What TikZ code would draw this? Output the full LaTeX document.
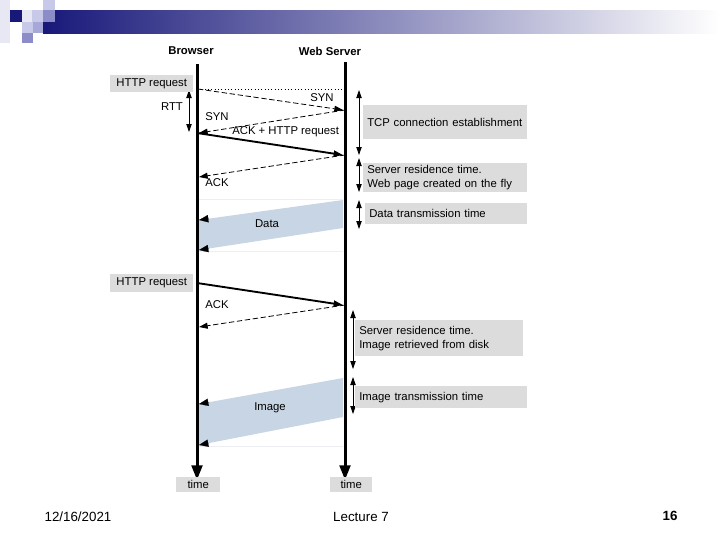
\documentclass[tikz,border=0pt]{standalone}
\usepackage{fontspec}
\setmainfont{Liberation Sans}
\usetikzlibrary{arrows.meta,calc}
\definecolor{boxgray}{RGB}{220,220,220}
\definecolor{bandblue}{RGB}{200,213,228}
\definecolor{navyhd}{RGB}{24,24,122}
\definecolor{lav1}{RGB}{200,200,232}
\definecolor{lav2}{RGB}{168,168,216}
\definecolor{lav3}{RGB}{140,140,200}
\definecolor{lav0}{RGB}{232,232,244}
\definecolor{faint}{RGB}{236,238,242}
\begin{document}
\begin{tikzpicture}[x=0.75pt,y=-0.75pt,
  font=\fontsize{8.5}{10.5}\selectfont,
  gbox/.style={fill=boxgray, inner sep=0pt, anchor=north west},
  gboxl/.style={gbox, align=left, inner xsep=3pt},
  lifeline/.style={line width=2.25pt, -{Triangle[length=11pt,width=8pt]}},
  msgsolid/.style={line width=1.4pt, -{Triangle[length=7pt,width=4.5pt]}},
  msgdash/.style={line width=0.6pt, dashed, dash pattern=on 4pt off 2pt, -{Triangle[length=6.5pt,width=4.5pt]}},
  span/.style={line width=0.6pt, {Triangle[length=6pt,width=4pt]}-{Triangle[length=6pt,width=4pt]}},
  tip/.style={line width=0.1pt, -{Triangle[length=7pt,width=5.5pt]}},
  lbl/.style={inner sep=0pt},
]
\useasboundingbox (0,0) rectangle (720,540);
% header decoration
\shade[left color=navyhd, right color=white] (43,10) rectangle (720,33);
\fill[lav0] (0,0) rectangle (10,43);
\fill[navyhd] (10,10) rectangle (22,22);
\fill[lav0] (22,10) rectangle (32,22);
\fill[lav1] (32,10) rectangle (43,22);
\fill[lav3] (43,10) rectangle (55,22);
\fill[lav1] (43,0) rectangle (55,10);
\fill[lav1] (22,22) rectangle (33,33);
\fill[lav2] (33,22) rectangle (43,33);
\fill[lav3] (22,33) rectangle (33,43);

% titles
\node[lbl, font=\fontsize{8.5}{10}\selectfont\bfseries] (browser) at (191,51) {Browser};
\node[lbl, font=\fontsize{8.5}{10}\selectfont\bfseries] (server) at (330,51) {Web Server};

% coordinates on lifelines
\coordinate (bTop) at (197,64);
\coordinate (bBot) at (197,480);
\coordinate (sTop) at (345,62);
\coordinate (sBot) at (345,480);

% faint guide lines
\draw[faint, line width=0.6pt] (199,199) -- (343,199);
\draw[faint, line width=0.6pt] (199,251) -- (343,251);
\draw[faint, line width=0.6pt] (199,446) -- (343,446);

% data bands
\coordinate (d1) at (343,200);
\coordinate (d2) at (343,228);
\coordinate (d3) at (199,250);
\coordinate (d4) at (199,220);
\fill[bandblue] (d1) -- (d2) -- (d3) -- (d4) -- cycle;
\draw[tip] ($(d4)!0.07!(d1)$) -- (d4);
\draw[tip] ($(d3)!0.07!(d2)$) -- (d3);
\node[lbl] (data) at (267,224) {Data};

\coordinate (i1) at (343,378);
\coordinate (i2) at (343,417);
\coordinate (i3) at (199,445);
\coordinate (i4) at (199,404);
\fill[bandblue] (i1) -- (i2) -- (i3) -- (i4) -- cycle;
\draw[tip] ($(i4)!0.07!(i1)$) -- (i4);
\draw[tip] ($(i3)!0.07!(i2)$) -- (i3);
\node[lbl] (image) at (270,408) {Image};

% lifelines
\draw[lifeline] (bTop) -- (bBot);
\draw[lifeline] (sTop) -- (sBot);

% first exchange
\coordinate (b89) at (198,89);
\coordinate (s89) at (344,89);
\coordinate (s110) at (343,110);
\coordinate (s110b) at (345,110);
\coordinate (b133) at (199,133);
\coordinate (b133b) at (197,133);
\coordinate (s155) at (343,155);
\coordinate (s155b) at (345,155);
\coordinate (b177) at (199,177);
\draw[line width=0.5pt, dotted] (b89) -- (s89);
\draw[msgdash] (b89) -- (s110);
\draw[msgdash] (s110b) -- (b133);
\draw[msgsolid] (b133b) -- (s155);
\draw[msgdash] (s155b) -- (b177);
\node[lbl] (syn1) at (322,98) {SYN};
\node[lbl, anchor=west] (syn2) at (205,117) {SYN};
\node[lbl, anchor=west] (ackhttp) at (232,132) {ACK + HTTP request};
\node[lbl, anchor=west] (ack1) at (205,183) {ACK};

% RTT
\coordinate (r1) at (189,90);
\coordinate (r2) at (189,132);
\draw[span] (r1) -- (r2);
\node[lbl] (rtt) at (172,107) {RTT};

% HTTP request boxes
\node[gbox, minimum width=62.25pt, minimum height=12.75pt] (http1) at (110,75) {HTTP request};
\node[gbox, minimum width=62.25pt, minimum height=13.5pt] (http2) at (110,274) {HTTP request};

% second exchange
\coordinate (b283) at (197,283);
\coordinate (s305) at (343,305);
\coordinate (s305b) at (345,305);
\coordinate (b327) at (199,327);
\draw[msgsolid] (b283) -- (s305);
\draw[msgdash] (s305b) -- (b327);
\node[lbl, anchor=west] (ack2) at (205,305) {ACK};

% right side spans
\coordinate (t1a) at (359,90);
\coordinate (t1b) at (359,155);
\coordinate (t2a) at (359,158);
\coordinate (t2b) at (359,192);
\coordinate (t3a) at (359,200);
\coordinate (t3b) at (359,229);
\draw[span] (t1a) -- (t1b);
\draw[span] (t2a) -- (t2b);
\draw[span] (t3a) -- (t3b);
\coordinate (t4a) at (353,310);
\coordinate (t4b) at (353,369);
\coordinate (t5a) at (353,377);
\coordinate (t5b) at (353,414);
\draw[span] (t4a) -- (t4b);
\draw[span] (t5a) -- (t5b);

\node[gboxl, text width=117pt, minimum height=25.5pt] (tcp) at (363,105) {TCP connection establishment};
\node[gboxl, text width=117pt, minimum height=21.75pt] (srt1) at (363,163) {Server residence time.\\Web page created on the fly};
\node[gboxl, text width=115.5pt, minimum height=15.75pt] (dtt) at (365,203) {Data transmission time};
\node[gboxl, text width=120pt, minimum height=27pt] (srt2) at (355,320) {Server residence time.\\Image retrieved from disk};
\node[gboxl, text width=123pt, minimum height=16.5pt] (itt) at (355,386) {Image transmission time};

% time boxes
\node[gbox, minimum width=33pt, minimum height=11.25pt] (time1) at (176,477) {time};
\node[gbox, minimum width=31.5pt, minimum height=11.25pt] (time2) at (330,477) {time};

% footer
\node[lbl, font=\fontsize{10}{12}\selectfont] (date) at (78,517) {12/16/2021};
\node[lbl, font=\fontsize{10}{12}\selectfont] (lecture) at (361,517) {Lecture 7};
\node[lbl, font=\fontsize{10}{12}\selectfont\bfseries] (page) at (670,516) {16};
\end{tikzpicture}
\end{document}
